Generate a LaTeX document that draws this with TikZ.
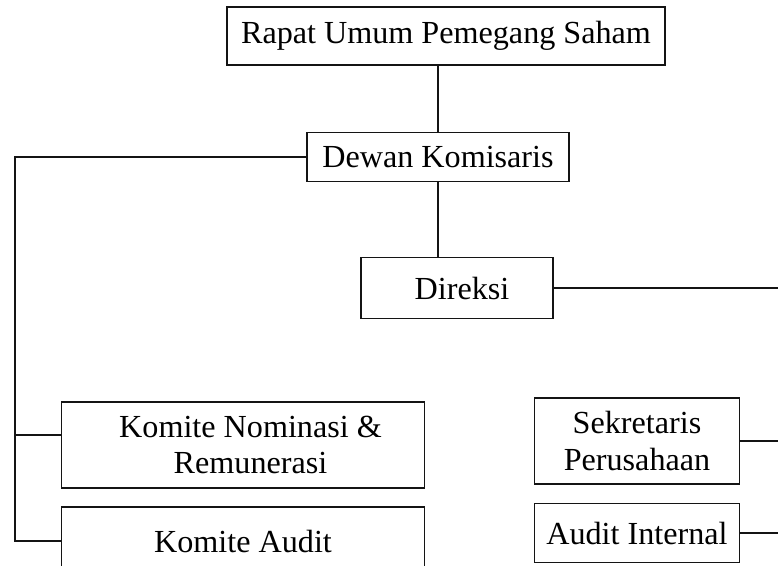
\documentclass[tikz,border=0pt]{standalone}
\usepackage{fontspec}
\setmainfont{Liberation Serif}
\usepackage{tikz}
\usetikzlibrary{positioning}
\usepackage{xcolor}
\definecolor{linedark}{RGB}{20, 20, 20}

\begin{document}
\begin{tikzpicture}[
    x=0.02cm, y=-0.02cm,
    unit/.style={rectangle, draw=linedark, fill=white, align=center, inner sep=0pt, font=\fontsize{18.3}{21}\selectfont, line width=1pt},
    link/.style={draw=linedark, line width=1pt},
]
\useasboundingbox (0,0) rectangle (778,565);

% Top of the structure
\node[unit, minimum width=438*0.02cm, minimum height=58*0.02cm] (rups) at (446, 36) {Rapat Umum Pemegang Saham};
\node[unit, minimum width=262*0.02cm, minimum height=49*0.02cm] (dewan) at (438, 157) {Dewan Komisaris};
\node[unit, minimum width=192*0.02cm, minimum height=61*0.02cm] (direksi) at (457, 288) {\hspace{0.2cm}Direksi};

\draw[link] (rups.south -| dewan.north) -- (dewan.north);
\draw[link] (dewan.south) -- (dewan.south |- direksi.north);

% Committees under the board of commissioners
\node[unit, minimum width=363*0.02cm, minimum height=86*0.02cm] (nomkom) at (243, 445) {\hspace{0.3cm}Komite Nominasi \&\\\hspace{0.3cm}Remunerasi};
\node[unit, minimum width=363*0.02cm, minimum height=68*0.02cm] (audkom) at (243, 541) {Komite Audit};

\coordinate (trunk) at (15, 541);
\coordinate (nomjoin) at ([yshift=0.2cm]nomkom.west);
\draw[link] (dewan.west) -| (trunk) -- (audkom.west);
\draw[link] (trunk |- nomjoin) -- (nomjoin);

% Units under the board of directors
\node[unit, minimum width=205*0.02cm, minimum height=86*0.02cm] (sekper) at (637, 441) {Sekretaris\\Perusahaan};
\node[unit, minimum width=205*0.02cm, minimum height=59*0.02cm] (audint) at (637, 533) {Audit Internal};

\coordinate (bus) at (785, 0);
\draw[link] (direksi.east) -- (direksi.east -| bus);
\draw[link] (sekper.east) -- (sekper.east -| bus);
\draw[link] (audint.east) -- (audint.east -| bus);

\end{tikzpicture}
\end{document}
